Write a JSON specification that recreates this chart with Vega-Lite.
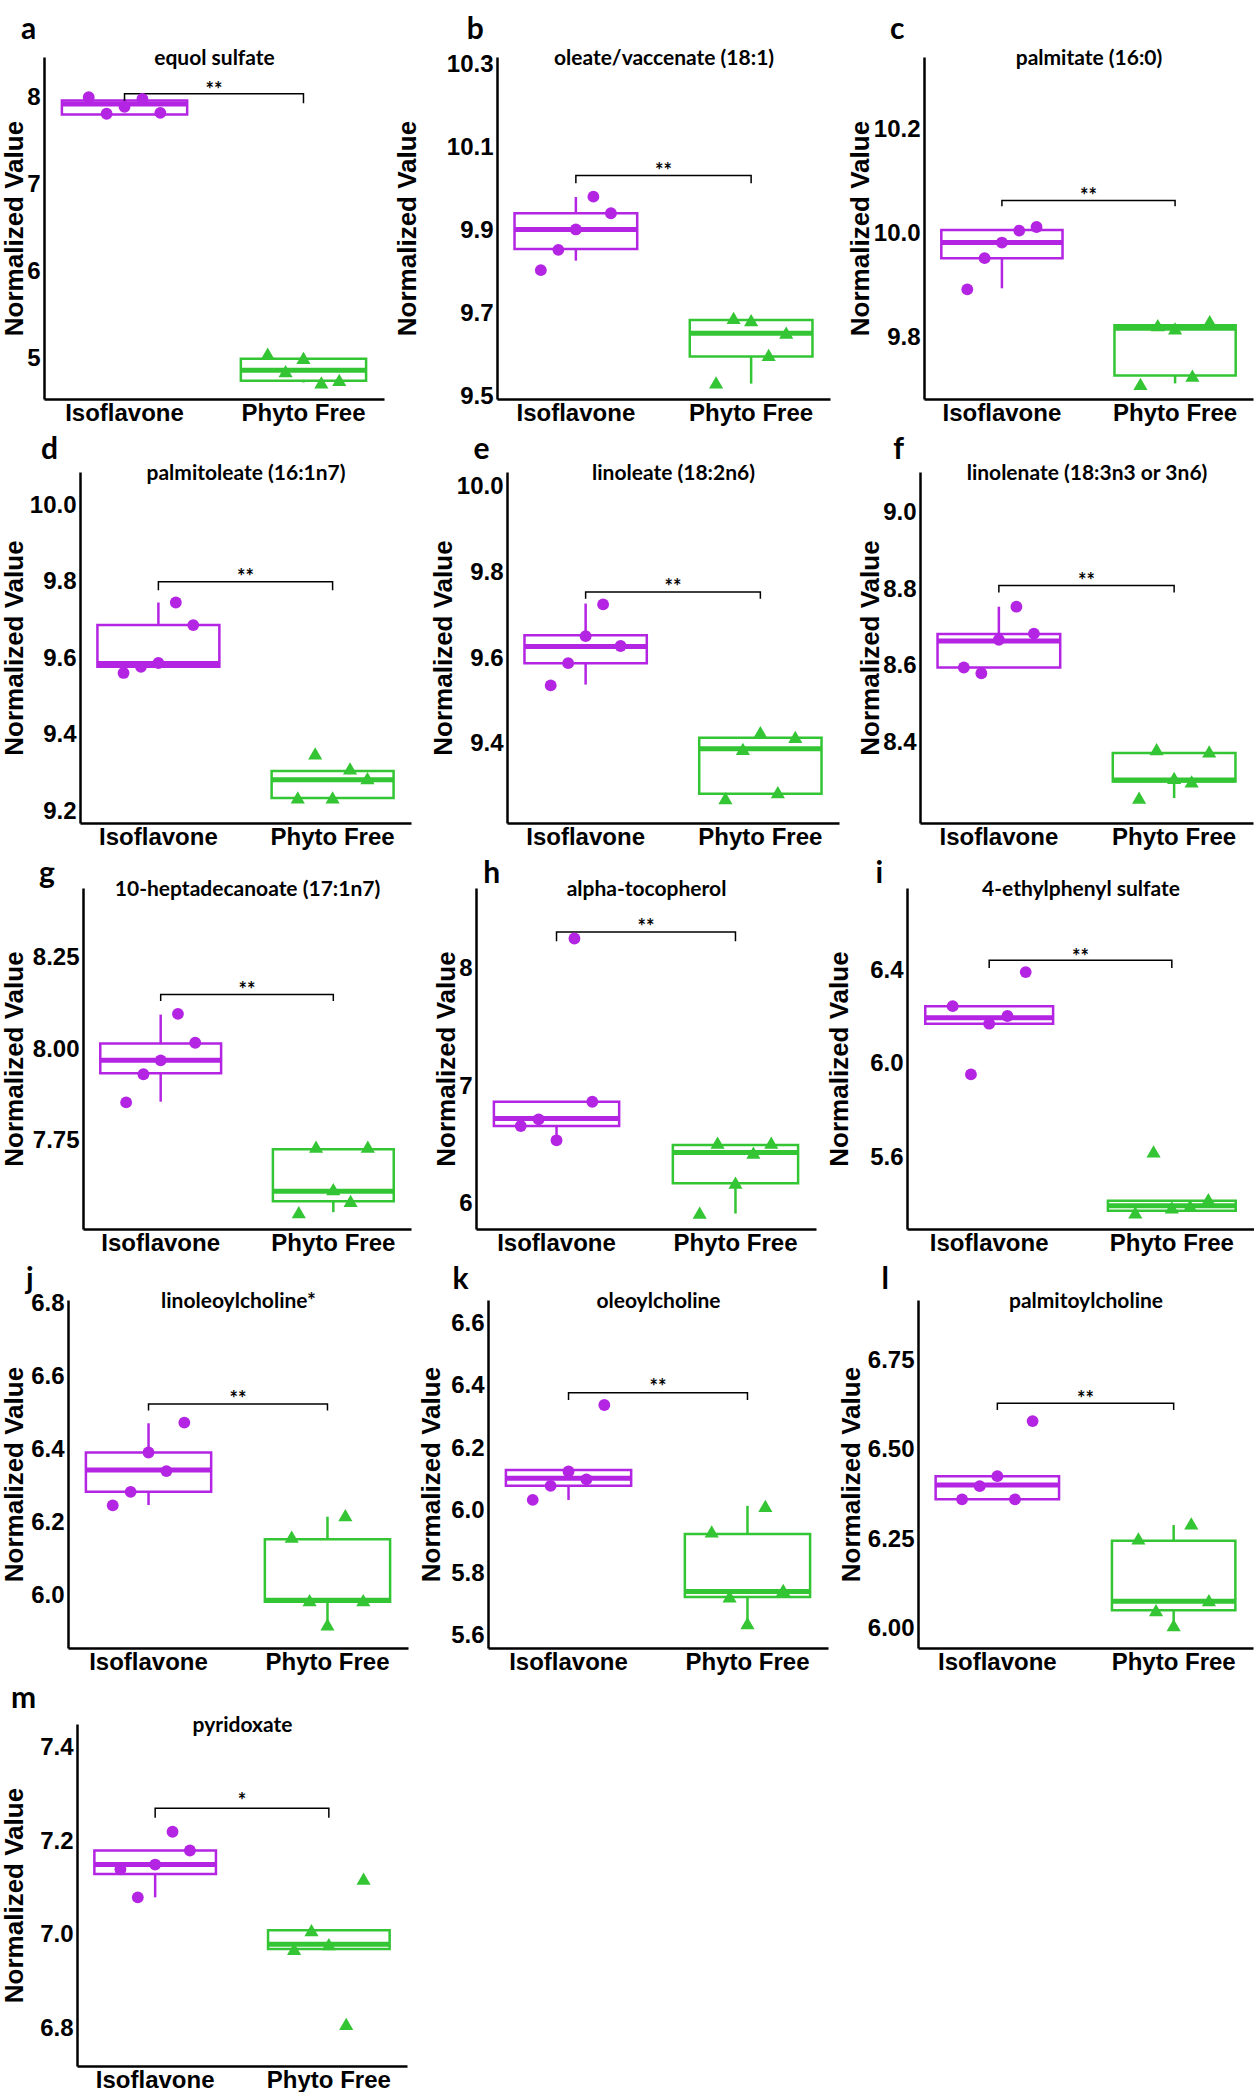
{
"$schema":"https://vega.github.io/schema/vega-lite/v6.json",
"background":"white",
"padding":{"left":-10,"top":14,"right":0,"bottom":0},
"config":{
 "view":{"stroke":null},
 "range":{"category":["#B324E3","#33C533"],"symbol":["circle","triangle-up"]},
 "legend":{"disable":true},
 "title":{"font":"Lato","fontSize":30,"fontWeight":"bold","anchor":"start","frame":"bounds","baseline":"alphabetic","color":"black"},
 "axis":{"grid":false,"ticks":false,"domainColor":"black","domainWidth":2.5,"labelFont":"Liberation Sans","labelFontWeight":"bold","labelFontSize":24,"labelColor":"black","titleFont":"Liberation Sans","titleFontSize":26,"titleFontWeight":"bold","titleColor":"black"},
 "axisBottom":{"labelPadding":2,"labelAngle":0},
 "axisLeft":{"labelPadding":4,"titleBaseline":"alphabetic","minExtent":0,"maxExtent":200},
 "axisTop":{"labels":false,"ticks":false,"domain":false,"titleFont":"Lato","titleFontSize":21,"titleFontWeight":"bold","titlePadding":-7,"titleBaseline":"alphabetic","minExtent":0,"maxExtent":0}
},
"datasets":{"d":[
{"p":"a","g":"Isoflavone","s":"I1","v":8.00},{"p":"a","g":"Isoflavone","s":"I2","v":7.81},{"p":"a","g":"Isoflavone","s":"I3","v":7.89},{"p":"a","g":"Isoflavone","s":"I4","v":7.98},{"p":"a","g":"Isoflavone","s":"I5","v":7.82},
{"p":"a","g":"Phyto Free","s":"P1","v":5.06},{"p":"a","g":"Phyto Free","s":"P2","v":4.86},{"p":"a","g":"Phyto Free","s":"P3","v":5.01},{"p":"a","g":"Phyto Free","s":"P4","v":4.73},{"p":"a","g":"Phyto Free","s":"P5","v":4.76},
{"p":"b","g":"Isoflavone","s":"I1","v":9.804},{"p":"b","g":"Isoflavone","s":"I2","v":9.853},{"p":"b","g":"Isoflavone","s":"I3","v":9.902},{"p":"b","g":"Isoflavone","s":"I4","v":9.981},{"p":"b","g":"Isoflavone","s":"I5","v":9.941},
{"p":"b","g":"Phyto Free","s":"P1","v":9.534},{"p":"b","g":"Phyto Free","s":"P2","v":9.689},{"p":"b","g":"Phyto Free","s":"P3","v":9.684},{"p":"b","g":"Phyto Free","s":"P4","v":9.600},{"p":"b","g":"Phyto Free","s":"P5","v":9.654},
{"p":"c","g":"Isoflavone","s":"I1","v":9.892},{"p":"c","g":"Isoflavone","s":"I2","v":9.952},{"p":"c","g":"Isoflavone","s":"I3","v":9.982},{"p":"c","g":"Isoflavone","s":"I4","v":10.005},{"p":"c","g":"Isoflavone","s":"I5","v":10.012},
{"p":"c","g":"Phyto Free","s":"P1","v":9.710},{"p":"c","g":"Phyto Free","s":"P2","v":9.823},{"p":"c","g":"Phyto Free","s":"P3","v":9.817},{"p":"c","g":"Phyto Free","s":"P4","v":9.726},{"p":"c","g":"Phyto Free","s":"P5","v":9.831},
{"p":"d","g":"Isoflavone","s":"I1","v":9.562},{"p":"d","g":"Isoflavone","s":"I2","v":9.578},{"p":"d","g":"Isoflavone","s":"I3","v":9.588},{"p":"d","g":"Isoflavone","s":"I4","v":9.746},{"p":"d","g":"Isoflavone","s":"I5","v":9.687},
{"p":"d","g":"Phyto Free","s":"P1","v":9.237},{"p":"d","g":"Phyto Free","s":"P2","v":9.352},{"p":"d","g":"Phyto Free","s":"P3","v":9.237},{"p":"d","g":"Phyto Free","s":"P4","v":9.313},{"p":"d","g":"Phyto Free","s":"P5","v":9.287},
{"p":"e","g":"Isoflavone","s":"I1","v":9.536},{"p":"e","g":"Isoflavone","s":"I2","v":9.588},{"p":"e","g":"Isoflavone","s":"I3","v":9.651},{"p":"e","g":"Isoflavone","s":"I4","v":9.725},{"p":"e","g":"Isoflavone","s":"I5","v":9.628},
{"p":"e","g":"Phyto Free","s":"P1","v":9.273},{"p":"e","g":"Phyto Free","s":"P2","v":9.388},{"p":"e","g":"Phyto Free","s":"P3","v":9.427},{"p":"e","g":"Phyto Free","s":"P4","v":9.287},{"p":"e","g":"Phyto Free","s":"P5","v":9.416},
{"p":"f","g":"Isoflavone","s":"I1","v":8.596},{"p":"f","g":"Isoflavone","s":"I2","v":8.581},{"p":"f","g":"Isoflavone","s":"I3","v":8.668},{"p":"f","g":"Isoflavone","s":"I4","v":8.754},{"p":"f","g":"Isoflavone","s":"I5","v":8.684},
{"p":"f","g":"Phyto Free","s":"P1","v":8.258},{"p":"f","g":"Phyto Free","s":"P2","v":8.384},{"p":"f","g":"Phyto Free","s":"P3","v":8.309},{"p":"f","g":"Phyto Free","s":"P4","v":8.300},{"p":"f","g":"Phyto Free","s":"P5","v":8.378},
{"p":"g","g":"Isoflavone","s":"I1","v":7.855},{"p":"g","g":"Isoflavone","s":"I2","v":7.932},{"p":"g","g":"Isoflavone","s":"I3","v":7.970},{"p":"g","g":"Isoflavone","s":"I4","v":8.097},{"p":"g","g":"Isoflavone","s":"I5","v":8.018},
{"p":"g","g":"Phyto Free","s":"P1","v":7.555},{"p":"g","g":"Phyto Free","s":"P2","v":7.734},{"p":"g","g":"Phyto Free","s":"P3","v":7.618},{"p":"g","g":"Phyto Free","s":"P4","v":7.586},{"p":"g","g":"Phyto Free","s":"P5","v":7.734},
{"p":"h","g":"Isoflavone","s":"I1","v":6.659},{"p":"h","g":"Isoflavone","s":"I2","v":6.716},{"p":"h","g":"Isoflavone","s":"I3","v":6.537},{"p":"h","g":"Isoflavone","s":"I4","v":8.259},{"p":"h","g":"Isoflavone","s":"I5","v":6.866},
{"p":"h","g":"Phyto Free","s":"P1","v":5.920},{"p":"h","g":"Phyto Free","s":"P2","v":6.517},{"p":"h","g":"Phyto Free","s":"P3","v":6.176},{"p":"h","g":"Phyto Free","s":"P4","v":6.432},{"p":"h","g":"Phyto Free","s":"P5","v":6.517},
{"p":"i","g":"Isoflavone","s":"I1","v":6.246},{"p":"i","g":"Isoflavone","s":"I2","v":5.954},{"p":"i","g":"Isoflavone","s":"I3","v":6.171},{"p":"i","g":"Isoflavone","s":"I4","v":6.204},{"p":"i","g":"Isoflavone","s":"I5","v":6.392},
{"p":"i","g":"Phyto Free","s":"P1","v":5.363},{"p":"i","g":"Phyto Free","s":"P2","v":5.624},{"p":"i","g":"Phyto Free","s":"P3","v":5.385},{"p":"i","g":"Phyto Free","s":"P4","v":5.392},{"p":"i","g":"Phyto Free","s":"P5","v":5.420},
{"p":"j","g":"Isoflavone","s":"I1","v":6.246},{"p":"j","g":"Isoflavone","s":"I2","v":6.283},{"p":"j","g":"Isoflavone","s":"I3","v":6.391},{"p":"j","g":"Isoflavone","s":"I4","v":6.340},{"p":"j","g":"Isoflavone","s":"I5","v":6.473},
{"p":"j","g":"Phyto Free","s":"P1","v":6.160},{"p":"j","g":"Phyto Free","s":"P2","v":5.986},{"p":"j","g":"Phyto Free","s":"P3","v":5.920},{"p":"j","g":"Phyto Free","s":"P4","v":6.219},{"p":"j","g":"Phyto Free","s":"P5","v":5.986},
{"p":"k","g":"Isoflavone","s":"I1","v":6.034},{"p":"k","g":"Isoflavone","s":"I2","v":6.079},{"p":"k","g":"Isoflavone","s":"I3","v":6.125},{"p":"k","g":"Isoflavone","s":"I4","v":6.100},{"p":"k","g":"Isoflavone","s":"I5","v":6.338},
{"p":"k","g":"Phyto Free","s":"P1","v":5.933},{"p":"k","g":"Phyto Free","s":"P2","v":5.725},{"p":"k","g":"Phyto Free","s":"P3","v":5.640},{"p":"k","g":"Phyto Free","s":"P4","v":6.015},{"p":"k","g":"Phyto Free","s":"P5","v":5.746},
{"p":"l","g":"Isoflavone","s":"I1","v":6.361},{"p":"l","g":"Isoflavone","s":"I2","v":6.398},{"p":"l","g":"Isoflavone","s":"I3","v":6.426},{"p":"l","g":"Isoflavone","s":"I4","v":6.361},{"p":"l","g":"Isoflavone","s":"I5","v":6.580},
{"p":"l","g":"Phyto Free","s":"P1","v":6.252},{"p":"l","g":"Phyto Free","s":"P2","v":6.051},{"p":"l","g":"Phyto Free","s":"P3","v":6.009},{"p":"l","g":"Phyto Free","s":"P4","v":6.294},{"p":"l","g":"Phyto Free","s":"P5","v":6.079},
{"p":"m","g":"Isoflavone","s":"I1","v":7.14},{"p":"m","g":"Isoflavone","s":"I2","v":7.08},{"p":"m","g":"Isoflavone","s":"I3","v":7.15},{"p":"m","g":"Isoflavone","s":"I4","v":7.22},{"p":"m","g":"Isoflavone","s":"I5","v":7.18},
{"p":"m","g":"Phyto Free","s":"P1","v":6.97},{"p":"m","g":"Phyto Free","s":"P2","v":7.01},{"p":"m","g":"Phyto Free","s":"P3","v":6.98},{"p":"m","g":"Phyto Free","s":"P4","v":6.81},{"p":"m","g":"Phyto Free","s":"P5","v":7.12},
{"p":"a","g":"Isoflavone","c":"I3","lo":7.80,"q1":7.80,"med":7.92,"q3":7.96,"hi":7.98},{"p":"a","g":"Phyto Free","c":"P3","lo":4.73,"q1":4.75,"med":4.87,"q3":5.00,"hi":5.06},
{"p":"b","g":"Isoflavone","c":"I3","lo":9.827,"q1":9.855,"med":9.902,"q3":9.941,"hi":9.98},{"p":"b","g":"Phyto Free","c":"P3","lo":9.531,"q1":9.596,"med":9.652,"q3":9.684,"hi":9.684},
{"p":"c","g":"Isoflavone","c":"I3","lo":9.894,"q1":9.952,"med":9.982,"q3":10.006,"hi":10.008},{"p":"c","g":"Phyto Free","c":"P3","lo":9.711,"q1":9.726,"med":9.817,"q3":9.823,"hi":9.823},
{"p":"d","g":"Isoflavone","c":"I3","lo":9.578,"q1":9.578,"med":9.587,"q3":9.687,"hi":9.746},{"p":"d","g":"Phyto Free","c":"P3","lo":9.237,"q1":9.235,"med":9.283,"q3":9.306,"hi":9.306},
{"p":"e","g":"Isoflavone","c":"I3","lo":9.538,"q1":9.588,"med":9.627,"q3":9.653,"hi":9.727},{"p":"e","g":"Phyto Free","c":"P3","lo":9.283,"q1":9.283,"med":9.388,"q3":9.414,"hi":9.414},
{"p":"f","g":"Isoflavone","c":"I3","lo":8.596,"q1":8.596,"med":8.665,"q3":8.683,"hi":8.754},{"p":"f","g":"Phyto Free","c":"P3","lo":8.257,"q1":8.300,"med":8.304,"q3":8.374,"hi":8.374},
{"p":"g","g":"Isoflavone","c":"I3","lo":7.857,"q1":7.935,"med":7.970,"q3":8.016,"hi":8.095},{"p":"g","g":"Phyto Free","c":"P3","lo":7.555,"q1":7.585,"med":7.612,"q3":7.727,"hi":7.727},
{"p":"h","g":"Isoflavone","c":"I3","lo":6.551,"q1":6.659,"med":6.724,"q3":6.866,"hi":6.866},{"p":"h","g":"Phyto Free","c":"P3","lo":5.912,"q1":6.170,"med":6.432,"q3":6.497,"hi":6.497},
{"p":"i","g":"Isoflavone","c":"I3","lo":6.171,"q1":6.171,"med":6.197,"q3":6.246,"hi":6.246},{"p":"i","g":"Phyto Free","c":"P3","lo":5.370,"q1":5.370,"med":5.392,"q3":5.413,"hi":5.413},
{"p":"j","g":"Isoflavone","c":"I3","lo":6.247,"q1":6.283,"med":6.343,"q3":6.391,"hi":6.471},{"p":"j","g":"Phyto Free","c":"P3","lo":5.922,"q1":5.982,"med":5.986,"q3":6.153,"hi":6.215},
{"p":"k","g":"Isoflavone","c":"I3","lo":6.034,"q1":6.079,"med":6.103,"q3":6.130,"hi":6.130},{"p":"k","g":"Phyto Free","c":"P3","lo":5.640,"q1":5.723,"med":5.741,"q3":5.925,"hi":6.015},
{"p":"l","g":"Isoflavone","c":"I3","lo":6.361,"q1":6.361,"med":6.401,"q3":6.426,"hi":6.426},{"p":"l","g":"Phyto Free","c":"P3","lo":6.014,"q1":6.051,"med":6.076,"q3":6.245,"hi":6.289},
{"p":"m","g":"Isoflavone","c":"I3","lo":7.08,"q1":7.13,"med":7.15,"q3":7.18,"hi":7.18},{"p":"m","g":"Phyto Free","c":"P3","lo":6.97,"q1":6.97,"med":6.98,"q3":7.01,"hi":7.01},
{"p":"a","c":"I3","o":1,"bv":7.93},{"p":"a","c":"I3","o":2,"bv":8.04},{"p":"a","c":"P3","o":3,"bv":8.04},{"p":"a","c":"P3","o":4,"bv":7.93},
{"p":"b","c":"I3","o":1,"bv":10.013},{"p":"b","c":"I3","o":2,"bv":10.032},{"p":"b","c":"P3","o":3,"bv":10.032},{"p":"b","c":"P3","o":4,"bv":10.013},
{"p":"c","c":"I3","o":1,"bv":10.052},{"p":"c","c":"I3","o":2,"bv":10.063},{"p":"c","c":"P3","o":3,"bv":10.063},{"p":"c","c":"P3","o":4,"bv":10.052},
{"p":"d","c":"I3","o":1,"bv":9.778},{"p":"d","c":"I3","o":2,"bv":9.8},{"p":"d","c":"P3","o":3,"bv":9.8},{"p":"d","c":"P3","o":4,"bv":9.778},
{"p":"e","c":"I3","o":1,"bv":9.738},{"p":"e","c":"I3","o":2,"bv":9.754},{"p":"e","c":"P3","o":3,"bv":9.754},{"p":"e","c":"P3","o":4,"bv":9.738},
{"p":"f","c":"I3","o":1,"bv":8.791},{"p":"f","c":"I3","o":2,"bv":8.809},{"p":"f","c":"P3","o":3,"bv":8.809},{"p":"f","c":"P3","o":4,"bv":8.791},
{"p":"g","c":"I3","o":1,"bv":8.132},{"p":"g","c":"I3","o":2,"bv":8.150},{"p":"g","c":"P3","o":3,"bv":8.150},{"p":"g","c":"P3","o":4,"bv":8.132},
{"p":"h","c":"I3","o":1,"bv":8.236},{"p":"h","c":"I3","o":2,"bv":8.315},{"p":"h","c":"P3","o":3,"bv":8.315},{"p":"h","c":"P3","o":4,"bv":8.236},
{"p":"i","c":"I3","o":1,"bv":6.410},{"p":"i","c":"I3","o":2,"bv":6.443},{"p":"i","c":"P3","o":3,"bv":6.443},{"p":"i","c":"P3","o":4,"bv":6.410},
{"p":"j","c":"I3","o":1,"bv":6.506},{"p":"j","c":"I3","o":2,"bv":6.524},{"p":"j","c":"P3","o":3,"bv":6.524},{"p":"j","c":"P3","o":4,"bv":6.506},
{"p":"k","c":"I3","o":1,"bv":6.354},{"p":"k","c":"I3","o":2,"bv":6.377},{"p":"k","c":"P3","o":3,"bv":6.377},{"p":"k","c":"P3","o":4,"bv":6.354},
{"p":"l","c":"I3","o":1,"bv":6.611},{"p":"l","c":"I3","o":2,"bv":6.630},{"p":"l","c":"P3","o":3,"bv":6.630},{"p":"l","c":"P3","o":4,"bv":6.611},
{"p":"m","c":"I3","o":1,"bv":7.25},{"p":"m","c":"I3","o":2,"bv":7.27},{"p":"m","c":"P3","o":3,"bv":7.27},{"p":"m","c":"P3","o":4,"bv":7.25},
{"p":"a","c":"x8","star":"**","sy":8.13},{"p":"b","c":"x8","star":"**","sy":10.052},{"p":"c","c":"x8","star":"**","sy":10.079},{"p":"d","c":"x8","star":"**","sy":9.822},{"p":"e","c":"x8","star":"**","sy":9.774},{"p":"f","c":"x8","star":"**","sy":8.830},{"p":"g","c":"x8","star":"**","sy":8.173},{"p":"h","c":"x8","star":"**","sy":8.392},{"p":"i","c":"x8","star":"**","sy":6.474},{"p":"j","c":"x8","star":"**","sy":6.548},{"p":"k","c":"x8","star":"**","sy":6.407},{"p":"l","c":"x8","star":"**","sy":6.653},{"p":"m","c":"x8","star":"*","sy":7.295}
]},
"data":{"name":"d"},
"columns":4,
"align":"none",
"bounds":"full",
"spacing":{"row":10,"column":10},
"concat":[
{"width":1,"height":1,"data":{"values":[{"z":0}]},"mark":{"type":"point","filled":true,"size":1,"opacity":0,"strokeWidth":0}},
{"width":340,"height":342,"title":{"text":"a","dx":19,"offset":2.5},"transform":[{"filter":"datum.p==='a'"}],"resolve":{"axis":{"x":"independent"}},
"layer":[
{"transform":[{"filter":"isValid(datum.q1)"}],"mark":{"type":"rule","strokeWidth":2.5},"encoding":{"x":{"field":"c","type":"nominal","title":null,"scale":{"domain":["x0","I1","I2","I3","I4","I5","x6","x7","x8","x9","x10","P1","P2","P3","P4","P5","x16"],"paddingInner":0,"paddingOuter":2.3},"axis":{"values":["I3","P3"],"labelExpr":"datum.value==='I3'?'Isoflavone':'Phyto Free'"}},"y":{"field":"lo","type":"quantitative","title":"Normalized Value","scale":{"domain":[4.54,8.46],"nice":false,"zero":false},"axis":{"values":[5,6,7,8],"format":"d","titlePadding":3.7}},"y2":{"field":"hi"},"color":{"field":"g","type":"nominal"}}},
{"transform":[{"filter":"isValid(datum.q1)"}],"mark":{"type":"bar","fill":"white","strokeWidth":2.5,"width":{"band":7}},"encoding":{"x":{"field":"c","type":"nominal","axis":null},"y":{"field":"q1","type":"quantitative","title":"Normalized Value"},"y2":{"field":"q3"},"stroke":{"field":"g","type":"nominal"}}},
{"transform":[{"filter":"isValid(datum.q1)"}],"mark":{"type":"bar","fillOpacity":0,"strokeWidth":5,"width":{"band":7}},"encoding":{"x":{"field":"c","type":"nominal","axis":null},"y":{"field":"med","type":"quantitative","title":"Normalized Value"},"y2":{"field":"med"},"stroke":{"field":"g","type":"nominal"}}},
{"transform":[{"filter":"isValid(datum.bv)"}],"mark":{"type":"line","color":"black","strokeWidth":1.5},"encoding":{"x":{"field":"c","type":"nominal","axis":null},"y":{"field":"bv","type":"quantitative","title":"Normalized Value"},"order":{"field":"o","type":"quantitative"}}},
{"transform":[{"filter":"isValid(datum.v)"}],"mark":{"type":"point","filled":true,"opacity":1},"encoding":{"x":{"field":"s","type":"nominal","axis":null},"y":{"field":"v","type":"quantitative","title":"Normalized Value"},"color":{"field":"g","type":"nominal"},"shape":{"field":"g","type":"nominal"},"size":{"field":"g","type":"nominal","scale":{"domain":["Isoflavone","Phyto Free"],"range":[140,200]},"legend":null}}},
{"transform":[{"filter":"isValid(datum.star)"}],"mark":{"type":"text","font":"Lato","fontSize":20,"fontWeight":"bold","baseline":"alphabetic","dy":11},"encoding":{"x":{"field":"c","type":"nominal","axis":{"orient":"top","title":"equol sulfate"}},"y":{"field":"sy","type":"quantitative","title":"Normalized Value"},"text":{"field":"star"}}}
]},
{"width":333,"height":342,"title":{"text":"b","dx":72.6,"offset":2.5},"transform":[{"filter":"datum.p==='b'"}],"resolve":{"axis":{"x":"independent"}},
"layer":[
{"transform":[{"filter":"isValid(datum.q1)"}],"mark":{"type":"rule","strokeWidth":2.5},"encoding":{"x":{"field":"c","type":"nominal","title":null,"scale":{"domain":["x0","I1","I2","I3","I4","I5","x6","x7","x8","x9","x10","P1","P2","P3","P4","P5","x16"],"paddingInner":0,"paddingOuter":2.3},"axis":{"values":["I3","P3"],"labelExpr":"datum.value==='I3'?'Isoflavone':'Phyto Free'"}},"y":{"field":"lo","type":"quantitative","title":"Normalized Value","scale":{"domain":[9.494,10.317],"nice":false,"zero":false},"axis":{"values":[9.5,9.7,9.9,10.1,10.3],"format":".1f","titlePadding":31.1}},"y2":{"field":"hi"},"color":{"field":"g","type":"nominal"}}},
{"transform":[{"filter":"isValid(datum.q1)"}],"mark":{"type":"bar","fill":"white","strokeWidth":2.5,"width":{"band":7}},"encoding":{"x":{"field":"c","type":"nominal","axis":null},"y":{"field":"q1","type":"quantitative","title":"Normalized Value"},"y2":{"field":"q3"},"stroke":{"field":"g","type":"nominal"}}},
{"transform":[{"filter":"isValid(datum.q1)"}],"mark":{"type":"bar","fillOpacity":0,"strokeWidth":5,"width":{"band":7}},"encoding":{"x":{"field":"c","type":"nominal","axis":null},"y":{"field":"med","type":"quantitative","title":"Normalized Value"},"y2":{"field":"med"},"stroke":{"field":"g","type":"nominal"}}},
{"transform":[{"filter":"isValid(datum.bv)"}],"mark":{"type":"line","color":"black","strokeWidth":1.5},"encoding":{"x":{"field":"c","type":"nominal","axis":null},"y":{"field":"bv","type":"quantitative","title":"Normalized Value"},"order":{"field":"o","type":"quantitative"}}},
{"transform":[{"filter":"isValid(datum.v)"}],"mark":{"type":"point","filled":true,"opacity":1},"encoding":{"x":{"field":"s","type":"nominal","axis":null},"y":{"field":"v","type":"quantitative","title":"Normalized Value"},"color":{"field":"g","type":"nominal"},"shape":{"field":"g","type":"nominal"},"size":{"field":"g","type":"nominal","scale":{"domain":["Isoflavone","Phyto Free"],"range":[140,200]},"legend":null}}},
{"transform":[{"filter":"isValid(datum.star)"}],"mark":{"type":"text","font":"Lato","fontSize":20,"fontWeight":"bold","baseline":"alphabetic","dy":11},"encoding":{"x":{"field":"c","type":"nominal","axis":{"orient":"top","title":"oleate/vaccenate (18:1)"}},"y":{"field":"sy","type":"quantitative","title":"Normalized Value"},"text":{"field":"star"}}}
]},
{"width":329,"height":342,"title":{"text":"c","dx":42,"offset":2.5},"transform":[{"filter":"datum.p==='c'"}],"resolve":{"axis":{"x":"independent"}},
"layer":[
{"transform":[{"filter":"isValid(datum.q1)"}],"mark":{"type":"rule","strokeWidth":2.5},"encoding":{"x":{"field":"c","type":"nominal","title":null,"scale":{"domain":["x0","I1","I2","I3","I4","I5","x6","x7","x8","x9","x10","P1","P2","P3","P4","P5","x16"],"paddingInner":0,"paddingOuter":2.3},"axis":{"values":["I3","P3"],"labelExpr":"datum.value==='I3'?'Isoflavone':'Phyto Free'"}},"y":{"field":"lo","type":"quantitative","title":"Normalized Value","scale":{"domain":[9.681,10.339],"nice":false,"zero":false},"axis":{"values":[9.8,10.0,10.2],"format":".1f","titlePadding":4.3}},"y2":{"field":"hi"},"color":{"field":"g","type":"nominal"}}},
{"transform":[{"filter":"isValid(datum.q1)"}],"mark":{"type":"bar","fill":"white","strokeWidth":2.5,"width":{"band":7}},"encoding":{"x":{"field":"c","type":"nominal","axis":null},"y":{"field":"q1","type":"quantitative","title":"Normalized Value"},"y2":{"field":"q3"},"stroke":{"field":"g","type":"nominal"}}},
{"transform":[{"filter":"isValid(datum.q1)"}],"mark":{"type":"bar","fillOpacity":0,"strokeWidth":5,"width":{"band":7}},"encoding":{"x":{"field":"c","type":"nominal","axis":null},"y":{"field":"med","type":"quantitative","title":"Normalized Value"},"y2":{"field":"med"},"stroke":{"field":"g","type":"nominal"}}},
{"transform":[{"filter":"isValid(datum.bv)"}],"mark":{"type":"line","color":"black","strokeWidth":1.5},"encoding":{"x":{"field":"c","type":"nominal","axis":null},"y":{"field":"bv","type":"quantitative","title":"Normalized Value"},"order":{"field":"o","type":"quantitative"}}},
{"transform":[{"filter":"isValid(datum.v)"}],"mark":{"type":"point","filled":true,"opacity":1},"encoding":{"x":{"field":"s","type":"nominal","axis":null},"y":{"field":"v","type":"quantitative","title":"Normalized Value"},"color":{"field":"g","type":"nominal"},"shape":{"field":"g","type":"nominal"},"size":{"field":"g","type":"nominal","scale":{"domain":["Isoflavone","Phyto Free"],"range":[140,200]},"legend":null}}},
{"transform":[{"filter":"isValid(datum.star)"}],"mark":{"type":"text","font":"Lato","fontSize":20,"fontWeight":"bold","baseline":"alphabetic","dy":11},"encoding":{"x":{"field":"c","type":"nominal","axis":{"orient":"top","title":"palmitate (16:0)"}},"y":{"field":"sy","type":"quantitative","title":"Normalized Value"},"text":{"field":"star"}}}
]},
{"width":1,"height":1,"data":{"values":[{"z":0}]},"mark":{"type":"point","filled":true,"size":1,"opacity":0,"strokeWidth":0}},
{"width":331,"height":351,"title":{"text":"d","dx":39,"offset":-3},"transform":[{"filter":"datum.p==='d'"}],"resolve":{"axis":{"x":"independent"}},
"layer":[
{"transform":[{"filter":"isValid(datum.q1)"}],"mark":{"type":"rule","strokeWidth":2.5},"encoding":{"x":{"field":"c","type":"nominal","title":null,"scale":{"domain":["x0","I1","I2","I3","I4","I5","x6","x7","x8","x9","x10","P1","P2","P3","P4","P5","x16"],"paddingInner":0,"paddingOuter":2.3},"axis":{"values":["I3","P3"],"labelExpr":"datum.value==='I3'?'Isoflavone':'Phyto Free'"}},"y":{"field":"lo","type":"quantitative","title":"Normalized Value","scale":{"domain":[9.17,10.087],"nice":false,"zero":false},"axis":{"values":[9.2,9.4,9.6,9.8,10.0],"format":".1f","titlePadding":6.3}},"y2":{"field":"hi"},"color":{"field":"g","type":"nominal"}}},
{"transform":[{"filter":"isValid(datum.q1)"}],"mark":{"type":"bar","fill":"white","strokeWidth":2.5,"width":{"band":7}},"encoding":{"x":{"field":"c","type":"nominal","axis":null},"y":{"field":"q1","type":"quantitative","title":"Normalized Value"},"y2":{"field":"q3"},"stroke":{"field":"g","type":"nominal"}}},
{"transform":[{"filter":"isValid(datum.q1)"}],"mark":{"type":"bar","fillOpacity":0,"strokeWidth":5,"width":{"band":7}},"encoding":{"x":{"field":"c","type":"nominal","axis":null},"y":{"field":"med","type":"quantitative","title":"Normalized Value"},"y2":{"field":"med"},"stroke":{"field":"g","type":"nominal"}}},
{"transform":[{"filter":"isValid(datum.bv)"}],"mark":{"type":"line","color":"black","strokeWidth":1.5},"encoding":{"x":{"field":"c","type":"nominal","axis":null},"y":{"field":"bv","type":"quantitative","title":"Normalized Value"},"order":{"field":"o","type":"quantitative"}}},
{"transform":[{"filter":"isValid(datum.v)"}],"mark":{"type":"point","filled":true,"opacity":1},"encoding":{"x":{"field":"s","type":"nominal","axis":null},"y":{"field":"v","type":"quantitative","title":"Normalized Value"},"color":{"field":"g","type":"nominal"},"shape":{"field":"g","type":"nominal"},"size":{"field":"g","type":"nominal","scale":{"domain":["Isoflavone","Phyto Free"],"range":[140,200]},"legend":null}}},
{"transform":[{"filter":"isValid(datum.star)"}],"mark":{"type":"text","font":"Lato","fontSize":20,"fontWeight":"bold","baseline":"alphabetic","dy":11},"encoding":{"x":{"field":"c","type":"nominal","axis":{"orient":"top","title":"palmitoleate (16:1n7)"}},"y":{"field":"sy","type":"quantitative","title":"Normalized Value"},"text":{"field":"star"}}}
]},
{"width":332,"height":351,"title":{"text":"e","dx":42.4,"offset":-3},"transform":[{"filter":"datum.p==='e'"}],"resolve":{"axis":{"x":"independent"}},
"layer":[
{"transform":[{"filter":"isValid(datum.q1)"}],"mark":{"type":"rule","strokeWidth":2.5},"encoding":{"x":{"field":"c","type":"nominal","title":null,"scale":{"domain":["x0","I1","I2","I3","I4","I5","x6","x7","x8","x9","x10","P1","P2","P3","P4","P5","x16"],"paddingInner":0,"paddingOuter":2.3},"axis":{"values":["I3","P3"],"labelExpr":"datum.value==='I3'?'Isoflavone':'Phyto Free'"}},"y":{"field":"lo","type":"quantitative","title":"Normalized Value","scale":{"domain":[9.215,10.034],"nice":false,"zero":false},"axis":{"values":[9.4,9.6,9.8,10.0],"format":".1f","titlePadding":4.3}},"y2":{"field":"hi"},"color":{"field":"g","type":"nominal"}}},
{"transform":[{"filter":"isValid(datum.q1)"}],"mark":{"type":"bar","fill":"white","strokeWidth":2.5,"width":{"band":7}},"encoding":{"x":{"field":"c","type":"nominal","axis":null},"y":{"field":"q1","type":"quantitative","title":"Normalized Value"},"y2":{"field":"q3"},"stroke":{"field":"g","type":"nominal"}}},
{"transform":[{"filter":"isValid(datum.q1)"}],"mark":{"type":"bar","fillOpacity":0,"strokeWidth":5,"width":{"band":7}},"encoding":{"x":{"field":"c","type":"nominal","axis":null},"y":{"field":"med","type":"quantitative","title":"Normalized Value"},"y2":{"field":"med"},"stroke":{"field":"g","type":"nominal"}}},
{"transform":[{"filter":"isValid(datum.bv)"}],"mark":{"type":"line","color":"black","strokeWidth":1.5},"encoding":{"x":{"field":"c","type":"nominal","axis":null},"y":{"field":"bv","type":"quantitative","title":"Normalized Value"},"order":{"field":"o","type":"quantitative"}}},
{"transform":[{"filter":"isValid(datum.v)"}],"mark":{"type":"point","filled":true,"opacity":1},"encoding":{"x":{"field":"s","type":"nominal","axis":null},"y":{"field":"v","type":"quantitative","title":"Normalized Value"},"color":{"field":"g","type":"nominal"},"shape":{"field":"g","type":"nominal"},"size":{"field":"g","type":"nominal","scale":{"domain":["Isoflavone","Phyto Free"],"range":[140,200]},"legend":null}}},
{"transform":[{"filter":"isValid(datum.star)"}],"mark":{"type":"text","font":"Lato","fontSize":20,"fontWeight":"bold","baseline":"alphabetic","dy":11},"encoding":{"x":{"field":"c","type":"nominal","axis":{"orient":"top","title":"linoleate (18:2n6)"}},"y":{"field":"sy","type":"quantitative","title":"Normalized Value"},"text":{"field":"star"}}}
]},
{"width":333,"height":351,"title":{"text":"f","dx":35.8,"offset":-3},"transform":[{"filter":"datum.p==='f'"}],"resolve":{"axis":{"x":"independent"}},
"layer":[
{"transform":[{"filter":"isValid(datum.q1)"}],"mark":{"type":"rule","strokeWidth":2.5},"encoding":{"x":{"field":"c","type":"nominal","title":null,"scale":{"domain":["x0","I1","I2","I3","I4","I5","x6","x7","x8","x9","x10","P1","P2","P3","P4","P5","x16"],"paddingInner":0,"paddingOuter":2.3},"axis":{"values":["I3","P3"],"labelExpr":"datum.value==='I3'?'Isoflavone':'Phyto Free'"}},"y":{"field":"lo","type":"quantitative","title":"Normalized Value","scale":{"domain":[8.192,9.104],"nice":false,"zero":false},"axis":{"values":[8.4,8.6,8.8,9.0],"format":".1f","titlePadding":4.15}},"y2":{"field":"hi"},"color":{"field":"g","type":"nominal"}}},
{"transform":[{"filter":"isValid(datum.q1)"}],"mark":{"type":"bar","fill":"white","strokeWidth":2.5,"width":{"band":7}},"encoding":{"x":{"field":"c","type":"nominal","axis":null},"y":{"field":"q1","type":"quantitative","title":"Normalized Value"},"y2":{"field":"q3"},"stroke":{"field":"g","type":"nominal"}}},
{"transform":[{"filter":"isValid(datum.q1)"}],"mark":{"type":"bar","fillOpacity":0,"strokeWidth":5,"width":{"band":7}},"encoding":{"x":{"field":"c","type":"nominal","axis":null},"y":{"field":"med","type":"quantitative","title":"Normalized Value"},"y2":{"field":"med"},"stroke":{"field":"g","type":"nominal"}}},
{"transform":[{"filter":"isValid(datum.bv)"}],"mark":{"type":"line","color":"black","strokeWidth":1.5},"encoding":{"x":{"field":"c","type":"nominal","axis":null},"y":{"field":"bv","type":"quantitative","title":"Normalized Value"},"order":{"field":"o","type":"quantitative"}}},
{"transform":[{"filter":"isValid(datum.v)"}],"mark":{"type":"point","filled":true,"opacity":1},"encoding":{"x":{"field":"s","type":"nominal","axis":null},"y":{"field":"v","type":"quantitative","title":"Normalized Value"},"color":{"field":"g","type":"nominal"},"shape":{"field":"g","type":"nominal"},"size":{"field":"g","type":"nominal","scale":{"domain":["Isoflavone","Phyto Free"],"range":[140,200]},"legend":null}}},
{"transform":[{"filter":"isValid(datum.star)"}],"mark":{"type":"text","font":"Lato","fontSize":20,"fontWeight":"bold","baseline":"alphabetic","dy":11},"encoding":{"x":{"field":"c","type":"nominal","axis":{"orient":"top","title":"linolenate (18:3n3 or 3n6)"}},"y":{"field":"sy","type":"quantitative","title":"Normalized Value"},"text":{"field":"star"}}}
]},
{"width":1,"height":1,"data":{"values":[{"z":0}]},"mark":{"type":"point","filled":true,"size":1,"opacity":0,"strokeWidth":0}},
{"width":328,"height":341,"title":{"text":"g","dx":37,"offset":-11},"transform":[{"filter":"datum.p==='g'"}],"resolve":{"axis":{"x":"independent"}},
"layer":[
{"transform":[{"filter":"isValid(datum.q1)"}],"mark":{"type":"rule","strokeWidth":2.5},"encoding":{"x":{"field":"c","type":"nominal","title":null,"scale":{"domain":["x0","I1","I2","I3","I4","I5","x6","x7","x8","x9","x10","P1","P2","P3","P4","P5","x16"],"paddingInner":0,"paddingOuter":2.3},"axis":{"values":["I3","P3"],"labelExpr":"datum.value==='I3'?'Isoflavone':'Phyto Free'"}},"y":{"field":"lo","type":"quantitative","title":"Normalized Value","scale":{"domain":[7.509,8.441],"nice":false,"zero":false},"axis":{"values":[7.75,8.0,8.25],"format":".2f","titlePadding":9.3}},"y2":{"field":"hi"},"color":{"field":"g","type":"nominal"}}},
{"transform":[{"filter":"isValid(datum.q1)"}],"mark":{"type":"bar","fill":"white","strokeWidth":2.5,"width":{"band":7}},"encoding":{"x":{"field":"c","type":"nominal","axis":null},"y":{"field":"q1","type":"quantitative","title":"Normalized Value"},"y2":{"field":"q3"},"stroke":{"field":"g","type":"nominal"}}},
{"transform":[{"filter":"isValid(datum.q1)"}],"mark":{"type":"bar","fillOpacity":0,"strokeWidth":5,"width":{"band":7}},"encoding":{"x":{"field":"c","type":"nominal","axis":null},"y":{"field":"med","type":"quantitative","title":"Normalized Value"},"y2":{"field":"med"},"stroke":{"field":"g","type":"nominal"}}},
{"transform":[{"filter":"isValid(datum.bv)"}],"mark":{"type":"line","color":"black","strokeWidth":1.5},"encoding":{"x":{"field":"c","type":"nominal","axis":null},"y":{"field":"bv","type":"quantitative","title":"Normalized Value"},"order":{"field":"o","type":"quantitative"}}},
{"transform":[{"filter":"isValid(datum.v)"}],"mark":{"type":"point","filled":true,"opacity":1},"encoding":{"x":{"field":"s","type":"nominal","axis":null},"y":{"field":"v","type":"quantitative","title":"Normalized Value"},"color":{"field":"g","type":"nominal"},"shape":{"field":"g","type":"nominal"},"size":{"field":"g","type":"nominal","scale":{"domain":["Isoflavone","Phyto Free"],"range":[140,200]},"legend":null}}},
{"transform":[{"filter":"isValid(datum.star)"}],"mark":{"type":"text","font":"Lato","fontSize":20,"fontWeight":"bold","baseline":"alphabetic","dy":11},"encoding":{"x":{"field":"c","type":"nominal","axis":{"orient":"top","title":"10-heptadecanoate (17:1n7)"}},"y":{"field":"sy","type":"quantitative","title":"Normalized Value"},"text":{"field":"star"}}}
]},
{"width":340,"height":341,"title":{"text":"h","dx":49.4,"offset":-11},"transform":[{"filter":"datum.p==='h'"}],"resolve":{"axis":{"x":"independent"}},
"layer":[
{"transform":[{"filter":"isValid(datum.q1)"}],"mark":{"type":"rule","strokeWidth":2.5},"encoding":{"x":{"field":"c","type":"nominal","title":null,"scale":{"domain":["x0","I1","I2","I3","I4","I5","x6","x7","x8","x9","x10","P1","P2","P3","P4","P5","x16"],"paddingInner":0,"paddingOuter":2.3},"axis":{"values":["I3","P3"],"labelExpr":"datum.value==='I3'?'Isoflavone':'Phyto Free'"}},"y":{"field":"lo","type":"quantitative","title":"Normalized Value","scale":{"domain":[5.78,8.69],"nice":false,"zero":false},"axis":{"values":[6,7,8],"format":"d","titlePadding":3.7}},"y2":{"field":"hi"},"color":{"field":"g","type":"nominal"}}},
{"transform":[{"filter":"isValid(datum.q1)"}],"mark":{"type":"bar","fill":"white","strokeWidth":2.5,"width":{"band":7}},"encoding":{"x":{"field":"c","type":"nominal","axis":null},"y":{"field":"q1","type":"quantitative","title":"Normalized Value"},"y2":{"field":"q3"},"stroke":{"field":"g","type":"nominal"}}},
{"transform":[{"filter":"isValid(datum.q1)"}],"mark":{"type":"bar","fillOpacity":0,"strokeWidth":5,"width":{"band":7}},"encoding":{"x":{"field":"c","type":"nominal","axis":null},"y":{"field":"med","type":"quantitative","title":"Normalized Value"},"y2":{"field":"med"},"stroke":{"field":"g","type":"nominal"}}},
{"transform":[{"filter":"isValid(datum.bv)"}],"mark":{"type":"line","color":"black","strokeWidth":1.5},"encoding":{"x":{"field":"c","type":"nominal","axis":null},"y":{"field":"bv","type":"quantitative","title":"Normalized Value"},"order":{"field":"o","type":"quantitative"}}},
{"transform":[{"filter":"isValid(datum.v)"}],"mark":{"type":"point","filled":true,"opacity":1},"encoding":{"x":{"field":"s","type":"nominal","axis":null},"y":{"field":"v","type":"quantitative","title":"Normalized Value"},"color":{"field":"g","type":"nominal"},"shape":{"field":"g","type":"nominal"},"size":{"field":"g","type":"nominal","scale":{"domain":["Isoflavone","Phyto Free"],"range":[140,200]},"legend":null}}},
{"transform":[{"filter":"isValid(datum.star)"}],"mark":{"type":"text","font":"Lato","fontSize":20,"fontWeight":"bold","baseline":"alphabetic","dy":11},"encoding":{"x":{"field":"c","type":"nominal","axis":{"orient":"top","title":"alpha-tocopherol"}},"y":{"field":"sy","type":"quantitative","title":"Normalized Value"},"text":{"field":"star"}}}
]},
{"width":347,"height":341,"title":{"text":"i","dx":48.8,"offset":-11},"transform":[{"filter":"datum.p==='i'"}],"resolve":{"axis":{"x":"independent"}},
"layer":[
{"transform":[{"filter":"isValid(datum.q1)"}],"mark":{"type":"rule","strokeWidth":2.5},"encoding":{"x":{"field":"c","type":"nominal","title":null,"scale":{"domain":["x0","I1","I2","I3","I4","I5","x6","x7","x8","x9","x10","P1","P2","P3","P4","P5","x16"],"paddingInner":0,"paddingOuter":2.3},"axis":{"values":["I3","P3"],"labelExpr":"datum.value==='I3'?'Isoflavone':'Phyto Free'"}},"y":{"field":"lo","type":"quantitative","title":"Normalized Value","scale":{"domain":[5.292,6.752],"nice":false,"zero":false},"axis":{"values":[5.6,6.0,6.4],"format":".1f","titlePadding":21.85}},"y2":{"field":"hi"},"color":{"field":"g","type":"nominal"}}},
{"transform":[{"filter":"isValid(datum.q1)"}],"mark":{"type":"bar","fill":"white","strokeWidth":2.5,"width":{"band":7}},"encoding":{"x":{"field":"c","type":"nominal","axis":null},"y":{"field":"q1","type":"quantitative","title":"Normalized Value"},"y2":{"field":"q3"},"stroke":{"field":"g","type":"nominal"}}},
{"transform":[{"filter":"isValid(datum.q1)"}],"mark":{"type":"bar","fillOpacity":0,"strokeWidth":5,"width":{"band":7}},"encoding":{"x":{"field":"c","type":"nominal","axis":null},"y":{"field":"med","type":"quantitative","title":"Normalized Value"},"y2":{"field":"med"},"stroke":{"field":"g","type":"nominal"}}},
{"transform":[{"filter":"isValid(datum.bv)"}],"mark":{"type":"line","color":"black","strokeWidth":1.5},"encoding":{"x":{"field":"c","type":"nominal","axis":null},"y":{"field":"bv","type":"quantitative","title":"Normalized Value"},"order":{"field":"o","type":"quantitative"}}},
{"transform":[{"filter":"isValid(datum.v)"}],"mark":{"type":"point","filled":true,"opacity":1},"encoding":{"x":{"field":"s","type":"nominal","axis":null},"y":{"field":"v","type":"quantitative","title":"Normalized Value"},"color":{"field":"g","type":"nominal"},"shape":{"field":"g","type":"nominal"},"size":{"field":"g","type":"nominal","scale":{"domain":["Isoflavone","Phyto Free"],"range":[140,200]},"legend":null}}},
{"transform":[{"filter":"isValid(datum.star)"}],"mark":{"type":"text","font":"Lato","fontSize":20,"fontWeight":"bold","baseline":"alphabetic","dy":11},"encoding":{"x":{"field":"c","type":"nominal","axis":{"orient":"top","title":"4-ethylphenyl sulfate"}},"y":{"field":"sy","type":"quantitative","title":"Normalized Value"},"text":{"field":"star"}}}
]},
{"width":1,"height":1,"data":{"values":[{"z":0}]},"mark":{"type":"point","filled":true,"size":1,"opacity":0,"strokeWidth":0}},
{"width":340,"height":348,"title":{"text":"j","dx":24,"offset":-5},"transform":[{"filter":"datum.p==='j'"}],"resolve":{"axis":{"x":"independent"}},
"layer":[
{"transform":[{"filter":"isValid(datum.q1)"}],"mark":{"type":"rule","strokeWidth":2.5},"encoding":{"x":{"field":"c","type":"nominal","title":null,"scale":{"domain":["x0","I1","I2","I3","I4","I5","x6","x7","x8","x9","x10","P1","P2","P3","P4","P5","x16"],"paddingInner":0,"paddingOuter":2.3},"axis":{"values":["I3","P3"],"labelExpr":"datum.value==='I3'?'Isoflavone':'Phyto Free'"}},"y":{"field":"lo","type":"quantitative","title":"Normalized Value","scale":{"domain":[5.855,6.809],"nice":false,"zero":false},"axis":{"values":[6.0,6.2,6.4,6.6,6.8],"format":".1f","titlePadding":7.7}},"y2":{"field":"hi"},"color":{"field":"g","type":"nominal"}}},
{"transform":[{"filter":"isValid(datum.q1)"}],"mark":{"type":"bar","fill":"white","strokeWidth":2.5,"width":{"band":7}},"encoding":{"x":{"field":"c","type":"nominal","axis":null},"y":{"field":"q1","type":"quantitative","title":"Normalized Value"},"y2":{"field":"q3"},"stroke":{"field":"g","type":"nominal"}}},
{"transform":[{"filter":"isValid(datum.q1)"}],"mark":{"type":"bar","fillOpacity":0,"strokeWidth":5,"width":{"band":7}},"encoding":{"x":{"field":"c","type":"nominal","axis":null},"y":{"field":"med","type":"quantitative","title":"Normalized Value"},"y2":{"field":"med"},"stroke":{"field":"g","type":"nominal"}}},
{"transform":[{"filter":"isValid(datum.bv)"}],"mark":{"type":"line","color":"black","strokeWidth":1.5},"encoding":{"x":{"field":"c","type":"nominal","axis":null},"y":{"field":"bv","type":"quantitative","title":"Normalized Value"},"order":{"field":"o","type":"quantitative"}}},
{"transform":[{"filter":"isValid(datum.v)"}],"mark":{"type":"point","filled":true,"opacity":1},"encoding":{"x":{"field":"s","type":"nominal","axis":null},"y":{"field":"v","type":"quantitative","title":"Normalized Value"},"color":{"field":"g","type":"nominal"},"shape":{"field":"g","type":"nominal"},"size":{"field":"g","type":"nominal","scale":{"domain":["Isoflavone","Phyto Free"],"range":[140,200]},"legend":null}}},
{"transform":[{"filter":"isValid(datum.star)"}],"mark":{"type":"text","font":"Lato","fontSize":20,"fontWeight":"bold","baseline":"alphabetic","dy":11},"encoding":{"x":{"field":"c","type":"nominal","axis":{"orient":"top","title":"linoleoylcholine*"}},"y":{"field":"sy","type":"quantitative","title":"Normalized Value"},"text":{"field":"star"}}}
]},
{"width":340,"height":348,"title":{"text":"k","dx":34.4,"offset":-5},"transform":[{"filter":"datum.p==='k'"}],"resolve":{"axis":{"x":"independent"}},
"layer":[
{"transform":[{"filter":"isValid(datum.q1)"}],"mark":{"type":"rule","strokeWidth":2.5},"encoding":{"x":{"field":"c","type":"nominal","title":null,"scale":{"domain":["x0","I1","I2","I3","I4","I5","x6","x7","x8","x9","x10","P1","P2","P3","P4","P5","x16"],"paddingInner":0,"paddingOuter":2.3},"axis":{"values":["I3","P3"],"labelExpr":"datum.value==='I3'?'Isoflavone':'Phyto Free'"}},"y":{"field":"lo","type":"quantitative","title":"Normalized Value","scale":{"domain":[5.56,6.674],"nice":false,"zero":false},"axis":{"values":[5.6,5.8,6.0,6.2,6.4,6.6],"format":".1f","titlePadding":11.45}},"y2":{"field":"hi"},"color":{"field":"g","type":"nominal"}}},
{"transform":[{"filter":"isValid(datum.q1)"}],"mark":{"type":"bar","fill":"white","strokeWidth":2.5,"width":{"band":7}},"encoding":{"x":{"field":"c","type":"nominal","axis":null},"y":{"field":"q1","type":"quantitative","title":"Normalized Value"},"y2":{"field":"q3"},"stroke":{"field":"g","type":"nominal"}}},
{"transform":[{"filter":"isValid(datum.q1)"}],"mark":{"type":"bar","fillOpacity":0,"strokeWidth":5,"width":{"band":7}},"encoding":{"x":{"field":"c","type":"nominal","axis":null},"y":{"field":"med","type":"quantitative","title":"Normalized Value"},"y2":{"field":"med"},"stroke":{"field":"g","type":"nominal"}}},
{"transform":[{"filter":"isValid(datum.bv)"}],"mark":{"type":"line","color":"black","strokeWidth":1.5},"encoding":{"x":{"field":"c","type":"nominal","axis":null},"y":{"field":"bv","type":"quantitative","title":"Normalized Value"},"order":{"field":"o","type":"quantitative"}}},
{"transform":[{"filter":"isValid(datum.v)"}],"mark":{"type":"point","filled":true,"opacity":1},"encoding":{"x":{"field":"s","type":"nominal","axis":null},"y":{"field":"v","type":"quantitative","title":"Normalized Value"},"color":{"field":"g","type":"nominal"},"shape":{"field":"g","type":"nominal"},"size":{"field":"g","type":"nominal","scale":{"domain":["Isoflavone","Phyto Free"],"range":[140,200]},"legend":null}}},
{"transform":[{"filter":"isValid(datum.star)"}],"mark":{"type":"text","font":"Lato","fontSize":20,"fontWeight":"bold","baseline":"alphabetic","dy":11},"encoding":{"x":{"field":"c","type":"nominal","axis":{"orient":"top","title":"oleoylcholine"}},"y":{"field":"sy","type":"quantitative","title":"Normalized Value"},"text":{"field":"star"}}}
]},
{"width":335,"height":348,"title":{"text":"l","dx":43,"offset":-5},"transform":[{"filter":"datum.p==='l'"}],"resolve":{"axis":{"x":"independent"}},
"layer":[
{"transform":[{"filter":"isValid(datum.q1)"}],"mark":{"type":"rule","strokeWidth":2.5},"encoding":{"x":{"field":"c","type":"nominal","title":null,"scale":{"domain":["x0","I1","I2","I3","I4","I5","x6","x7","x8","x9","x10","P1","P2","P3","P4","P5","x16"],"paddingInner":0,"paddingOuter":2.3},"axis":{"values":["I3","P3"],"labelExpr":"datum.value==='I3'?'Isoflavone':'Phyto Free'"}},"y":{"field":"lo","type":"quantitative","title":"Normalized Value","scale":{"domain":[5.945,6.919],"nice":false,"zero":false},"axis":{"values":[6.0,6.25,6.5,6.75],"format":".2f","titlePadding":7.7}},"y2":{"field":"hi"},"color":{"field":"g","type":"nominal"}}},
{"transform":[{"filter":"isValid(datum.q1)"}],"mark":{"type":"bar","fill":"white","strokeWidth":2.5,"width":{"band":7}},"encoding":{"x":{"field":"c","type":"nominal","axis":null},"y":{"field":"q1","type":"quantitative","title":"Normalized Value"},"y2":{"field":"q3"},"stroke":{"field":"g","type":"nominal"}}},
{"transform":[{"filter":"isValid(datum.q1)"}],"mark":{"type":"bar","fillOpacity":0,"strokeWidth":5,"width":{"band":7}},"encoding":{"x":{"field":"c","type":"nominal","axis":null},"y":{"field":"med","type":"quantitative","title":"Normalized Value"},"y2":{"field":"med"},"stroke":{"field":"g","type":"nominal"}}},
{"transform":[{"filter":"isValid(datum.bv)"}],"mark":{"type":"line","color":"black","strokeWidth":1.5},"encoding":{"x":{"field":"c","type":"nominal","axis":null},"y":{"field":"bv","type":"quantitative","title":"Normalized Value"},"order":{"field":"o","type":"quantitative"}}},
{"transform":[{"filter":"isValid(datum.v)"}],"mark":{"type":"point","filled":true,"opacity":1},"encoding":{"x":{"field":"s","type":"nominal","axis":null},"y":{"field":"v","type":"quantitative","title":"Normalized Value"},"color":{"field":"g","type":"nominal"},"shape":{"field":"g","type":"nominal"},"size":{"field":"g","type":"nominal","scale":{"domain":["Isoflavone","Phyto Free"],"range":[140,200]},"legend":null}}},
{"transform":[{"filter":"isValid(datum.star)"}],"mark":{"type":"text","font":"Lato","fontSize":20,"fontWeight":"bold","baseline":"alphabetic","dy":11},"encoding":{"x":{"field":"c","type":"nominal","axis":{"orient":"top","title":"palmitoylcholine"}},"y":{"field":"sy","type":"quantitative","title":"Normalized Value"},"text":{"field":"star"}}}
]},
{"width":1,"height":1,"data":{"values":[{"z":0}]},"mark":{"type":"point","filled":true,"size":1,"opacity":0,"strokeWidth":0}},
{"width":330,"height":342,"title":{"text":"m","dx":10,"offset":0},"transform":[{"filter":"datum.p==='m'"}],"resolve":{"axis":{"x":"independent"}},
"layer":[
{"transform":[{"filter":"isValid(datum.q1)"}],"mark":{"type":"rule","strokeWidth":2.5},"encoding":{"x":{"field":"c","type":"nominal","title":null,"scale":{"domain":["x0","I1","I2","I3","I4","I5","x6","x7","x8","x9","x10","P1","P2","P3","P4","P5","x16"],"paddingInner":0,"paddingOuter":2.3},"axis":{"values":["I3","P3"],"labelExpr":"datum.value==='I3'?'Isoflavone':'Phyto Free'"}},"y":{"field":"lo","type":"quantitative","title":"Normalized Value","scale":{"domain":[6.72,7.45],"nice":false,"zero":false},"axis":{"values":[6.8,7.0,7.2,7.4],"format":".1f","titlePadding":17.6}},"y2":{"field":"hi"},"color":{"field":"g","type":"nominal"}}},
{"transform":[{"filter":"isValid(datum.q1)"}],"mark":{"type":"bar","fill":"white","strokeWidth":2.5,"width":{"band":7}},"encoding":{"x":{"field":"c","type":"nominal","axis":null},"y":{"field":"q1","type":"quantitative","title":"Normalized Value"},"y2":{"field":"q3"},"stroke":{"field":"g","type":"nominal"}}},
{"transform":[{"filter":"isValid(datum.q1)"}],"mark":{"type":"bar","fillOpacity":0,"strokeWidth":5,"width":{"band":7}},"encoding":{"x":{"field":"c","type":"nominal","axis":null},"y":{"field":"med","type":"quantitative","title":"Normalized Value"},"y2":{"field":"med"},"stroke":{"field":"g","type":"nominal"}}},
{"transform":[{"filter":"isValid(datum.bv)"}],"mark":{"type":"line","color":"black","strokeWidth":1.5},"encoding":{"x":{"field":"c","type":"nominal","axis":null},"y":{"field":"bv","type":"quantitative","title":"Normalized Value"},"order":{"field":"o","type":"quantitative"}}},
{"transform":[{"filter":"isValid(datum.v)"}],"mark":{"type":"point","filled":true,"opacity":1},"encoding":{"x":{"field":"s","type":"nominal","axis":null},"y":{"field":"v","type":"quantitative","title":"Normalized Value"},"color":{"field":"g","type":"nominal"},"shape":{"field":"g","type":"nominal"},"size":{"field":"g","type":"nominal","scale":{"domain":["Isoflavone","Phyto Free"],"range":[140,200]},"legend":null}}},
{"transform":[{"filter":"isValid(datum.star)"}],"mark":{"type":"text","font":"Lato","fontSize":20,"fontWeight":"bold","baseline":"alphabetic","dy":11},"encoding":{"x":{"field":"c","type":"nominal","axis":{"orient":"top","title":"pyridoxate"}},"y":{"field":"sy","type":"quantitative","title":"Normalized Value"},"text":{"field":"star"}}}
]}
]
}
